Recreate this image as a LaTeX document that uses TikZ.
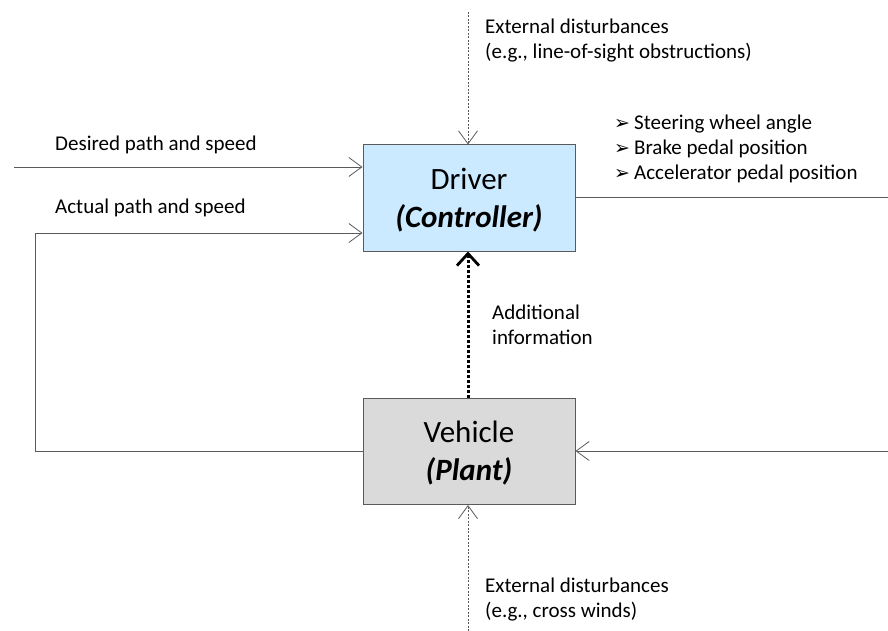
\documentclass[tikz,border=0pt]{standalone}
\usepackage{fontspec}
\setmainfont{Carlito}
\newfontfamily\symfont{DejaVu Sans}
\usetikzlibrary{arrows.meta}
\definecolor{linegray}{RGB}{90,90,90}
\definecolor{drvblue}{RGB}{204,234,255}
\definecolor{vehgray}{RGB}{218,218,218}
\newcommand{\blt}{{\symfont\fontsize{19}{25}\selectfont ➢}\hspace{4pt}}
\begin{document}
\begin{tikzpicture}[x=1pt,y=-1pt,
  blockbox/.style={draw=linegray,line width=1pt,minimum width=212pt,minimum height=106pt,inner sep=0pt,align=center,font=\fontsize{31}{37}\selectfont},
  conn/.style={draw=linegray,line width=0.8pt},
  tipv/.style={-{Straight Barb[length=13pt,width=19pt,line width=0.8pt]}},
  lbl/.style={anchor=west,inner sep=0pt,font=\fontsize{21}{25}\selectfont,align=left,text=black}]
\useasboundingbox (0,0) rectangle (888,631);
\node[blockbox,fill=drvblue] (drv) at (469,198) {\rule{0pt}{25pt}Driver\\[1pt]\textbf{\textit{(Controller)}}};
\node[blockbox,fill=vehgray] (veh) at (469,451.5) {\rule{0pt}{25pt}Vehicle\\[1pt]\textbf{\textit{(Plant)}}};
% coordinates
\coordinate (topin) at (468,12);
\coordinate (botin) at (468,631);
\coordinate (despt) at (14,167);
\coordinate (fbtop) at (35,233);
\coordinate (fbbot) at (35,451);
\coordinate (outend) at (888,197);
\coordinate (inend) at (888,451);
% connectors
\draw[conn,dash pattern=on 2pt off 1.5pt,line width=0.6pt,tipv] (topin) -- (drv.north -| topin);
\draw[conn,tipv] (despt) -- (drv.west |- despt);
\draw[conn,tipv] (veh.west |- fbbot) -- (fbbot) -- (fbtop) -- (drv.west |- fbtop);
\draw[conn] (drv.east |- outend) -- (outend);
\draw[conn,tipv] (inend) -- (veh.east |- inend);
\draw[conn,dash pattern=on 2pt off 1.5pt,line width=0.6pt,tipv] (botin) -- (veh.south -| botin);
\draw[draw=black,line width=3pt,dotted,-{Straight Barb[length=12pt,width=22pt,line width=2.8pt]}] (veh.north -| topin) -- (drv.south -| topin);
% labels
\node[lbl] (ltop) at (485,41) {External disturbances\\(e.g., line-of-sight obstructions)};
\node[lbl] (lbot) at (485,600) {External disturbances\\(e.g., cross winds)};
\node[lbl] (ldes) at (55,145) {Desired path and speed};
\node[lbl] (lact) at (55,208) {Actual path and speed};
\node[lbl] (ladd) at (492,325) {Additional\\information};
\node[lbl] (lout) at (614,149) {\blt Steering wheel angle\\\blt Brake pedal position\\\blt Accelerator pedal position};
\end{tikzpicture}
\end{document}
